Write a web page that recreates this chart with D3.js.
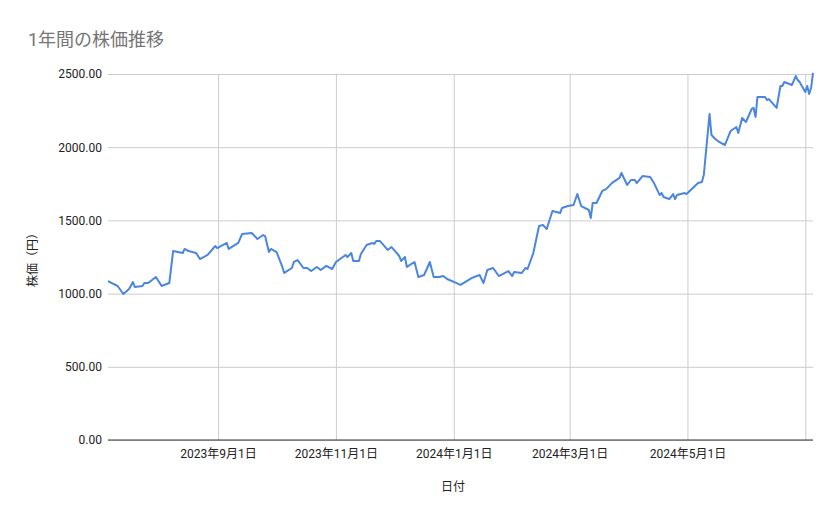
<!DOCTYPE html><html><head><meta charset="utf-8">
<script src="https://cdn.jsdelivr.net/npm/d3@7"></script>
<style>body{margin:0;background:#fff}text{font-family:Roboto,"Noto Sans CJK JP",sans-serif}</style></head><body>
<svg id="c" width="839" height="519"></svg>
<script>
const startDate = "2023-07-06";
const endDate = "2024-07-05";
const dayOffsets = [0,1,5,8,11,13,14,18,19,21,25,28,32,34,39,40,42,46,48,52,56,57,62,63,68,70,75,78,81,82,84,85,88,91,92,96,97,99,102,104,106,109,111,114,117,119,124,125,127,128,131,132,135,138,139,140,142,146,148,152,153,155,156,160,162,165,168,170,173,175,177,182,184,190,194,196,198,201,204,209,211,212,216,218,219,222,225,227,229,232,236,237,240,243,245,247,251,252,253,255,258,260,263,267,268,271,273,275,276,279,283,285,288,289,290,293,295,296,297,301,302,308,310,311,314,315,317,319,322,325,328,329,331,333,336,337,338,339,343,344,345,349,351,352,353,357,359,360,361,364,365,366,367,368];
const prices = [1085,1079,1052,997,1031,1079,1045,1052,1072,1072,1113,1052,1072,1291,1277,1305,1291,1277,1236,1264,1325,1311,1346,1305,1346,1407,1414,1373,1400,1393,1284,1305,1284,1182,1141,1175,1216,1229,1175,1175,1154,1182,1161,1189,1168,1216,1264,1250,1277,1223,1223,1270,1332,1346,1339,1359,1359,1298,1318,1257,1223,1250,1182,1216,1113,1127,1216,1113,1113,1120,1100,1072,1059,1107,1127,1072,1161,1175,1120,1154,1120,1148,1141,1175,1168,1277,1462,1469,1441,1564,1550,1585,1598,1605,1680,1598,1571,1516,1619,1619,1701,1714,1755,1790,1824,1742,1776,1776,1755,1803,1796,1755,1673,1687,1660,1646,1680,1646,1673,1687,1680,1755,1762,1810,2227,2083,2056,2036,2015,2111,2138,2097,2199,2172,2261,2268,2206,2343,2343,2322,2329,2268,2418,2418,2445,2425,2486,2459,2445,2377,2418,2363,2404,2507];
const yTicks = [0,500,1000,1500,2000,2500];
const xTickDates = ["2023-09-01","2023-11-01","2024-01-01","2024-03-01","2024-05-01","2024-07-01"];
const xTickLabels = ["2023年9月1日","2023年11月1日","2024年1月1日","2024年3月1日","2024年5月1日",""];

const parse = d3.timeParse("%Y-%m-%d");
const s0 = parse(startDate), s1 = parse(endDate);
const span = d3.timeDay.count(s0,s1), maxOff = d3.max(dayOffsets);
const data = dayOffsets.map((o,i)=>({d:new Date(+s0 + (s1-s0)*o/maxOff),v:prices[i]}));
const svg = d3.select("#c");
const L=108,R=813,T=74,B=440;
const x = d3.scaleTime().domain([s0,s1]).range([L,R]);
const y = d3.scaleLinear().domain([0,2500]).range([B,T]);
svg.append("text").attr("x",28).attr("y",46).attr("font-size",18).attr("fill","#757575").text("1年間の株価推移");
const gy = svg.append("g").attr("transform",`translate(${L},0)`)
 .call(d3.axisLeft(y).tickValues(yTicks).tickSize(-(R-L)).tickFormat(d3.format(".2f")));
gy.select(".domain").remove();
gy.selectAll("line").attr("stroke","#cccccc");
gy.selectAll("text").attr("x",-6).attr("font-size",12).attr("fill","#222");
const xt = xTickDates.map(parse);
const gx = svg.append("g").attr("transform",`translate(0,${B})`)
 .call(d3.axisBottom(x).tickValues(xt).tickSize(-(B-T)).tickFormat((d,i)=>xTickLabels[i]));
gx.select(".domain").remove();
gx.selectAll("line").attr("stroke","#cccccc");
gx.selectAll("text").attr("y",9).attr("font-size",12).attr("fill","#222");
svg.append("line").attr("x1",L).attr("x2",R).attr("y1",B).attr("y2",B).attr("stroke","#333");
svg.append("path").datum(data).attr("fill","none").attr("stroke","#4a86e0").attr("stroke-width",2)
 .attr("stroke-linejoin","round").attr("d",d3.line().x(d=>x(d.d)).y(d=>y(d.v)));
svg.append("text").attr("x",453).attr("y",491).attr("text-anchor","middle").attr("font-size",12).attr("fill","#222").text("日付");
svg.append("text").attr("transform","translate(37,257) rotate(-90)").attr("text-anchor","middle").attr("font-size",12).attr("fill","#222").text("株価（円）");
</script></body></html>
